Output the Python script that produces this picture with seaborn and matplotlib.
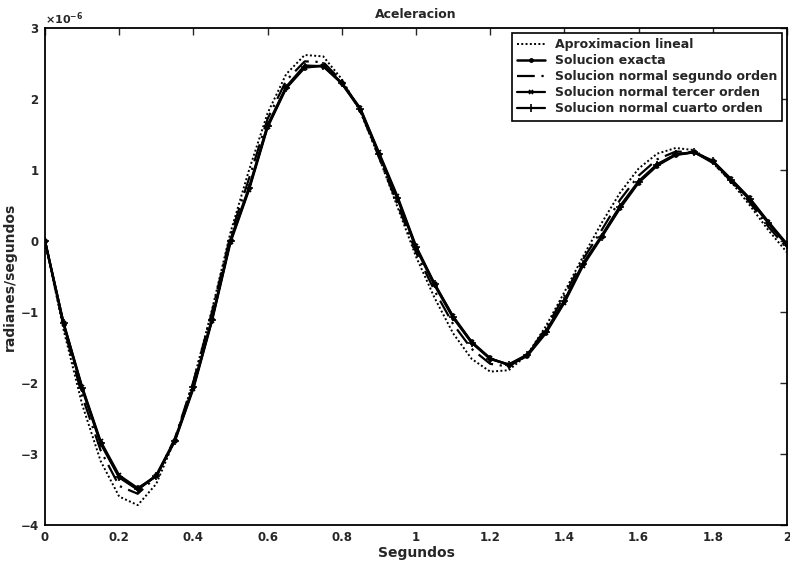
import numpy as np
import pandas as pd
import matplotlib
matplotlib.use("Agg")
import matplotlib.pyplot as plt
import seaborn as sns
from matplotlib.ticker import ScalarFormatter, FixedLocator, FuncFormatter

# time axis (seconds)
t = [0.00, 0.05, 0.10, 0.15, 0.20, 0.25, 0.30, 0.35, 0.40, 0.45,
     0.50, 0.55, 0.60, 0.65, 0.70, 0.75, 0.80, 0.85, 0.90, 0.95,
     1.00, 1.05, 1.10, 1.15, 1.20, 1.25, 1.30, 1.35, 1.40, 1.45,
     1.50, 1.55, 1.60, 1.65, 1.70, 1.75, 1.80, 1.85, 1.90, 1.95, 2.00]

# values in units of 1e-6
lineal = [0.00, -1.25, -2.30, -3.10, -3.60, -3.72, -3.42, -2.80, -1.97, -0.97,
          0.12, 1.00, 1.80, 2.35, 2.62, 2.60, 2.28, 1.82, 1.18, 0.48,
          -0.22, -0.80, -1.30, -1.66, -1.84, -1.82, -1.60, -1.20, -0.72, -0.22,
          0.25, 0.68, 1.02, 1.23, 1.31, 1.28, 1.10, 0.83, 0.50, 0.15, -0.16]
exacta = [0.00, -1.17, -2.08, -2.85, -3.33, -3.50, -3.30, -2.80, -2.05, -1.10,
          0.02, 0.75, 1.63, 2.17, 2.47, 2.46, 2.22, 1.85, 1.22, 0.60,
          -0.10, -0.62, -1.08, -1.43, -1.66, -1.74, -1.60, -1.27, -0.84, -0.32,
          0.07, 0.49, 0.84, 1.08, 1.22, 1.25, 1.12, 0.85, 0.58, 0.25, -0.06]
segundo = [0.00, -1.20, -2.18, -2.95, -3.45, -3.56, -3.32, -2.78, -1.98, -1.00,
           0.08, 0.88, 1.72, 2.26, 2.53, 2.52, 2.25, 1.84, 1.18, 0.52,
           -0.16, -0.70, -1.17, -1.52, -1.73, -1.77, -1.60, -1.23, -0.77, -0.26,
           0.15, 0.58, 0.92, 1.15, 1.26, 1.25, 1.10, 0.84, 0.54, 0.20, -0.10]
tercero = [0.00, -1.15, -2.05, -2.82, -3.30, -3.48, -3.31, -2.82, -2.08, -1.13,
           -0.02, 0.72, 1.60, 2.15, 2.44, 2.47, 2.23, 1.87, 1.25, 0.63,
           -0.07, -0.60, -1.06, -1.42, -1.65, -1.75, -1.62, -1.30, -0.87, -0.35,
           0.05, 0.46, 0.82, 1.06, 1.21, 1.25, 1.13, 0.87, 0.60, 0.27, -0.04]
cuarto = [0.00, -1.16, -2.07, -2.84, -3.32, -3.50, -3.31, -2.81, -2.06, -1.11,
          0.00, 0.74, 1.62, 2.16, 2.45, 2.47, 2.22, 1.86, 1.23, 0.61,
          -0.09, -0.61, -1.07, -1.43, -1.66, -1.74, -1.61, -1.28, -0.85, -0.33,
          0.06, 0.48, 0.83, 1.07, 1.22, 1.25, 1.12, 0.86, 0.59, 0.26, -0.05]

labels = ["Aproximacion lineal", "Solucion exacta", "Solucion normal segundo orden",
          "Solucion normal tercer orden", "Solucion normal cuarto orden"]
xticks = [0, 0.2, 0.4, 0.6, 0.8, 1, 1.2, 1.4, 1.6, 1.8, 2]
yticks = [-4, -3, -2, -1, 0, 1, 2, 3]

sns.set_style("white")
plt.rcParams['font.family'] = ['DejaVu Sans']
plt.rcParams['font.weight'] = 'bold'

fig = plt.figure(figsize=(7.9, 5.66), dpi=100)
ax = fig.add_axes([45/790, 1 - 525/566, (787-45)/790, (525-28)/566])

scale = 1e-6
series = [lineal, exacta, segundo, tercero, cuarto]
styles = [dict(ls=(0, (1, 1.2)), marker='None', ms=0, mew=0, lw=1.4),
          dict(ls='-', marker='.', ms=5, mew=1, lw=1.8),
          dict(ls=(0, (8, 3, 1, 3)), marker='None', ms=0, mew=0, lw=1.6),
          dict(ls='-', marker='x', ms=3.5, mew=1.2, lw=1.6),
          dict(ls='-', marker='+', ms=5.5, mew=1.2, lw=1.6)]
for vals, lab in zip(series, labels):
    df = pd.DataFrame({"t": t, "y": np.array(vals) * scale})
    sns.lineplot(data=df, x="t", y="y", ax=ax, color="black", label=lab)

for line, st in zip(ax.lines, styles):
    line.set_linestyle(st['ls'])
    line.set_linewidth(st['lw'])
    line.set_marker(st['marker'])
    line.set_markersize(st['ms'])
    line.set_markeredgewidth(st['mew'])
    line.set_markerfacecolor('black')
    line.set_markeredgecolor('black')
    line.set_color('black')

ax.set_xlim(0, 2)
ax.set_ylim(-4e-6, 3e-6)
ax.xaxis.set_major_locator(FixedLocator(xticks))
ax.xaxis.set_major_formatter(FuncFormatter(lambda v, p: "%g" % v))
ax.yaxis.set_major_locator(FixedLocator([v * scale for v in yticks]))
fmt = ScalarFormatter(useMathText=True)
fmt.set_powerlimits((0, 0))
ax.yaxis.set_major_formatter(fmt)
ax.yaxis.get_offset_text().set_fontsize(8)
ax.yaxis.get_offset_text().set_fontweight('bold')

ax.tick_params(direction='in', length=5, width=1, top=True, right=True,
               labelsize=8.5, pad=4)
for sp in ax.spines.values():
    sp.set_visible(True)
    sp.set_color('black')
    sp.set_linewidth(1.3)

ax.set_title("Aceleracion", fontsize=9, fontweight='bold', pad=7)
ax.set_xlabel("Segundos", fontsize=10, fontweight='bold', labelpad=2)
ax.set_ylabel("radianes/segundos", fontsize=10, fontweight='bold', labelpad=2)

leg = ax.legend(handles=list(ax.lines), labels=labels, loc='upper right',
                fontsize=9, frameon=True, fancybox=False,
                edgecolor='black', framealpha=1, borderaxespad=0.4,
                handlelength=2.2, labelspacing=0.25, borderpad=0.4)
leg.get_frame().set_linewidth(1.2)

fig.savefig("out.png", dpi=100)
